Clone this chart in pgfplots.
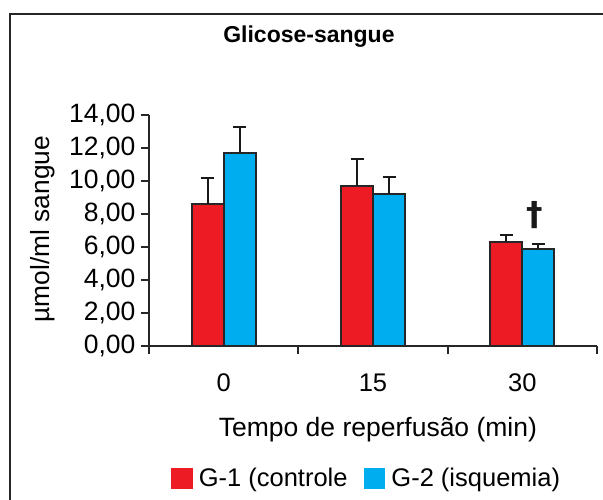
\documentclass[border=0pt]{standalone}
\usepackage{pgfplots}
\pgfplotsset{compat=1.18}
\usepackage{fontspec}
\setmainfont{Liberation Sans}
\newfontfamily\djv{DejaVu Sans}
\definecolor{barred}{HTML}{ED1C24}
\definecolor{barblue}{HTML}{00AEEF}
\definecolor{edge}{HTML}{262626}
\begin{document}
\begin{tikzpicture}
\useasboundingbox (0,0) rectangle (603pt,-500pt);
\clip (0,0) rectangle (603pt,-500pt);
\draw[line width=2pt, edge] (10pt,-14pt) rectangle (640pt,-540pt);
\begin{axis}[
  at={(149pt,-346pt)}, anchor=south west,
  scale only axis, width=448pt, height=231pt,
  xmin=-0.5, xmax=2.5, ymin=0, ymax=14,
  axis lines=left, axis line style={-, line width=1.8pt, edge},
  ybar=0pt, bar width=32pt,
  ytick={0,2,4,6,8,10,12,14},
  /pgf/number format/fixed,
  /pgf/number format/fixed zerofill,
  /pgf/number format/precision=2,
  /pgf/number format/use comma,
  /pgf/number format/assume math mode=true,
  yticklabel style={font=\fontsize{26.5}{30}\selectfont, xshift=-2pt},
  xticklabel style={font=\fontsize{25.5}{30}\selectfont},
  tick align=outside, major tick length=8pt,
  tick style={line width=1.8pt, edge},
  xtick={-0.5,0.5,1.5,2.5}, xticklabels={},
  extra x ticks={0,1,2}, extra x tick labels={0,15,30},
  extra x tick style={major tick length=0pt, xticklabel style={anchor=center, yshift=-37pt}},
  title={Glicose-sangue},
  title style={font=\bfseries\fontsize{23}{28}\selectfont, at={(axis description cs:0.357,1.312)}, anchor=center},
  xlabel={Tempo de reperfusão (min)},
  xlabel style={font=\fontsize{26.5}{30}\selectfont, at={(axis description cs:0.511,-0.364)}, anchor=center},
  ylabel={µmol/ml sangue},
  ylabel style={font=\fontsize{26.3}{30}\selectfont, at={(axis description cs:-0.237,0.506)}, anchor=center, rotate=0},
  legend style={at={(axis description cs:0.042,-0.572)}, anchor=west, draw=none, fill=none,
    font=\fontsize{25.5}{30}\selectfont, legend columns=2,
    /tikz/every even column/.append style={column sep=14pt}},
  error bars/y dir=plus, error bars/y explicit,
  error bars/error bar style={line width=1.8pt, black!90},
  error bars/error mark options={rotate=90, line width=1.8pt, black!90, mark size=6.5pt},
]
\addplot[fill=barred, draw=edge, line width=1.8pt, bar shift=-16pt,
  legend image code/.code={\fill[barred] (0pt,-9.5pt) rectangle (20pt,9.5pt); \path (24pt,0pt);}]
  coordinates {(0,8.60) +- (0,1.56) (1,9.70) +- (0,1.61) (2,6.32) +- (0,0.41)};
\addlegendentry{G-1 (controle}
\addplot[fill=barblue, draw=edge, line width=1.8pt, bar shift=16pt,
  legend image code/.code={\fill[barblue] (0pt,-9.5pt) rectangle (20pt,9.5pt); \path (24pt,0pt);}]
  coordinates {(0,11.72) +- (0,1.57) (1,9.23) +- (0,1.01) (2,5.86) +- (0,0.32)};
\addlegendentry{G-2 (isquemia)}
\node[font=\djv\bfseries\fontsize{33}{38}\selectfont, text=black!90] at (axis cs:2.08,7.95) {†};
\end{axis}
\end{tikzpicture}
\end{document}
